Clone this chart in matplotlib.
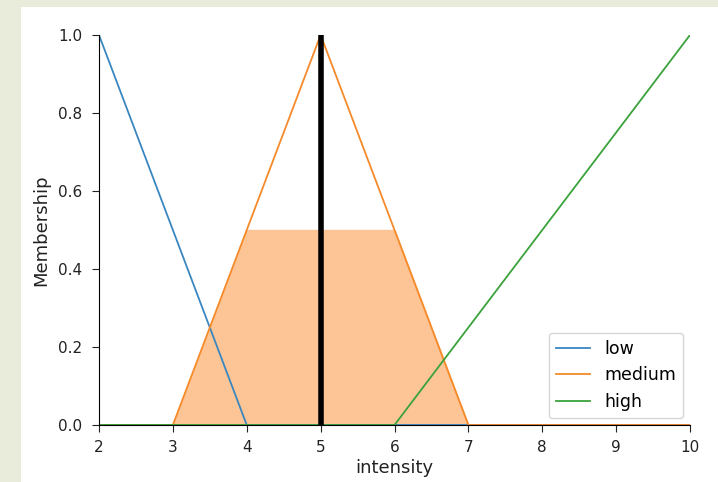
import numpy as np
import matplotlib
matplotlib.use("Agg")
import matplotlib.pyplot as plt
from matplotlib.patches import Rectangle

# Data
x_pts = [2, 3, 4, 5, 6, 7, 10]
low = [1.0, 0.5, 0.0, 0.0, 0.0, 0.0, 0.0]
medium = [0.0, 0.0, 0.5, 1.0, 0.5, 0.0, 0.0]
high = [0.0, 0.0, 0.0, 0.0, 0.0, 0.25, 1.0]
clip_level = 0.5
crisp_value = 5.0

x = np.linspace(2, 10, 801)
low_y = np.interp(x, x_pts, low)
med_y = np.interp(x, x_pts, medium)
high_y = np.interp(x, x_pts, high)
act = np.fmin(med_y, clip_level)

fig = plt.figure(figsize=(7.18, 4.82), dpi=100, facecolor="#e9ecda")
fig.patches.append(Rectangle((21/718, 0), 1, 1 - 7/482, transform=fig.transFigure,
                             facecolor="white", edgecolor="none", zorder=-10))
ax = fig.add_axes([99/718, 1 - 425/482, 591/718, 390/482])
ax.set_facecolor("none")

ax.plot(x, low_y, color="#3a87c0", lw=1.3, label="low")
ax.plot(x, med_y, color="#f58a2a", lw=1.3, label="medium")
ax.plot(x, high_y, color="#3aa23a", lw=1.3, label="high")
ax.fill_between(x, 0, act, color="#fdc595", alpha=1.0, zorder=1)
ax.plot([crisp_value, crisp_value], [0, 1.0], color="k", lw=4, zorder=5)

ax.set_xlim(2, 10)
ax.set_ylim(0, 1.0)
ax.spines["top"].set_visible(False)
ax.spines["right"].set_visible(False)
ax.tick_params(labelsize=11, length=5, colors="#222222")
ax.tick_params(axis="x", pad=6)
ax.tick_params(axis="y", pad=7)
ax.set_xlabel("intensity", fontsize=13, labelpad=3, color="#222222")
ax.set_ylabel("Membership", fontsize=13, labelpad=6, color="#222222")
ax.legend(loc="lower right", fontsize=12.5, borderaxespad=0.4)

fig.savefig("out.png", dpi=100, facecolor=fig.get_facecolor())
